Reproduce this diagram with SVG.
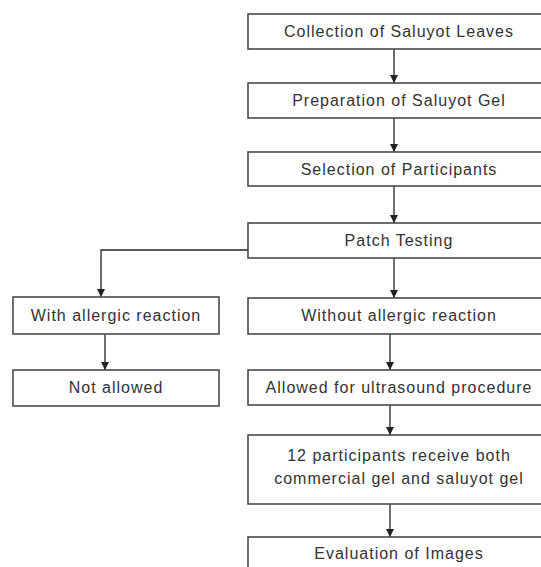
<svg xmlns="http://www.w3.org/2000/svg" width="541" height="567" viewBox="0 0 541 567">
<defs>
<marker id="ah" viewBox="0 0 10 10" refX="10" refY="5" markerWidth="8" markerHeight="8" markerUnits="userSpaceOnUse" orient="auto">
<path d="M0,0 L10,5 L0,10 z" fill="#222"/>
</marker>
<style>
.b{fill:#fff;stroke:#4a4a4a;stroke-width:1.6}
.t{font-family:"Liberation Sans",Arial,sans-serif;font-size:16px;letter-spacing:1px;fill:#333;text-anchor:middle}
.c{fill:none;stroke:#222;stroke-width:1.3;marker-end:url(#ah)}
</style>
</defs>
<rect width="541" height="567" fill="#fff"/>
<g id="connectors">
<line class="c" x1="394" y1="49" x2="394" y2="83"/>
<line class="c" x1="394" y1="118" x2="394" y2="152"/>
<line class="c" x1="394" y1="186" x2="394" y2="223"/>
<line class="c" x1="394" y1="258" x2="394" y2="298"/>
<polyline class="c" points="248,250 101,250 101,297"/>
<line class="c" x1="105" y1="334" x2="105" y2="370"/>
<line class="c" x1="390" y1="334" x2="390" y2="370"/>
<line class="c" x1="390" y1="405" x2="390" y2="435"/>
<line class="c" x1="390" y1="504" x2="390" y2="537"/>
</g>
<g id="n1"><rect class="b" x="248" y="14" width="298" height="35"/><text class="t" x="399" y="37">Collection of Saluyot Leaves</text></g>
<g id="n2"><rect class="b" x="248" y="83" width="298" height="35"/><text class="t" x="399" y="106">Preparation of Saluyot Gel</text></g>
<g id="n3"><rect class="b" x="248" y="152" width="298" height="34"/><text class="t" x="399" y="175">Selection of Participants</text></g>
<g id="n4"><rect class="b" x="248" y="223" width="298" height="35"/><text class="t" x="399" y="246">Patch Testing</text></g>
<g id="n5"><rect class="b" x="13" y="297" width="206" height="37"/><text class="t" x="116" y="321">With allergic reaction</text></g>
<g id="n6"><rect class="b" x="248" y="298" width="298" height="36"/><text class="t" x="399" y="321">Without allergic reaction</text></g>
<g id="n7"><rect class="b" x="13" y="370" width="206" height="36"/><text class="t" x="116" y="393">Not allowed</text></g>
<g id="n8"><rect class="b" x="248" y="370" width="298" height="35"/><text class="t" x="399" y="393">Allowed for ultrasound procedure</text></g>
<g id="n9"><rect class="b" x="248" y="435" width="298" height="69"/><text class="t" x="399" y="461">12 participants receive both</text><text class="t" x="399" y="484">commercial gel and saluyot gel</text></g>
<g id="n10"><rect class="b" x="248" y="537" width="298" height="40"/><text class="t" x="399" y="559">Evaluation of Images</text></g>
</svg>
